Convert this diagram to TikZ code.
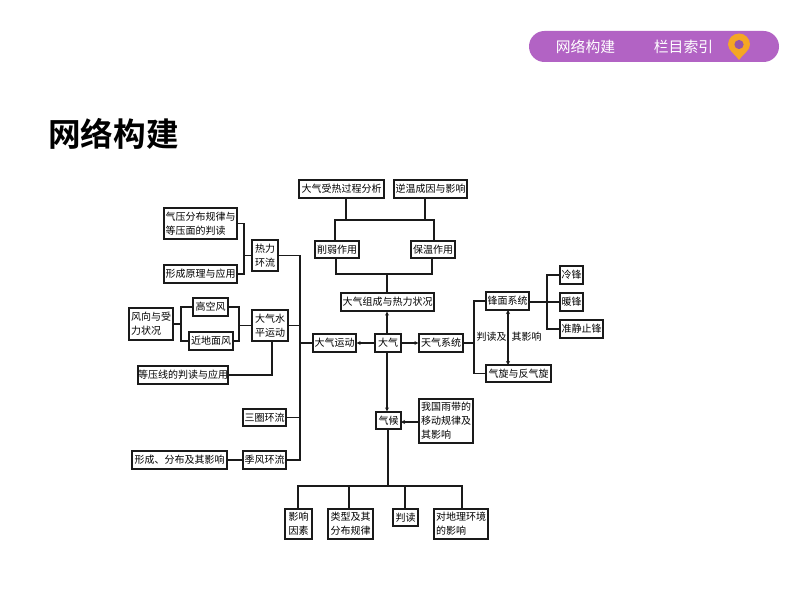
\documentclass[tikz,border=0pt]{standalone}
\usepackage{fontspec}
\setmainfont{Noto Sans CJK SC}
\newfontfamily\titlefont{Noto Sans CJK SC}[BoldFont={Noto Sans CJK SC Bold}]
\usetikzlibrary{arrows.meta}
\definecolor{pillc}{HTML}{B263C4}
\definecolor{pinc}{HTML}{F5A623}
\definecolor{linec}{HTML}{1A1A1A}
\tikzset{
  x=1pt,y=-1pt,
  bx/.style={draw=linec,line width=1.1pt,fill=white,inner sep=0pt,align=left,text=black,font=\fontsize{10}{14}\selectfont},
  conn/.style={draw=linec,line width=1.1pt},
  arr/.style={conn,-{Stealth[length=4pt,width=4pt]}},
  darr/.style={conn,{Stealth[length=4pt,width=4pt]}-{Stealth[length=4pt,width=4pt]}},
  lab/.style={inner sep=0pt,text=black,font=\fontsize{10}{14}\selectfont},
  pilltxt/.style={inner sep=0pt,text=white,font=\fontsize{14.8}{16}\selectfont},
}
\newcommand{\bxn}[6]{\node[bx,minimum width=#4pt-#2pt,minimum height=#5pt-#3pt] (#1) at ({(#2+#4)/2},{(#3+#5)/2}) {#6};}
\begin{document}
\begin{tikzpicture}
\useasboundingbox (0,0) rectangle (794,593);
\fill[white] (0,0) rectangle (794,593);
% header pill
\fill[pillc,rounded corners=15.5pt] (529,31) rectangle (779,62);
\node[pilltxt] (hdra) at (585.5,47) {网络构建};
\node[pilltxt] (hdrb) at (683.5,47) {栏目索引};
\fill[pinc] (739,60) .. controls (735,54) and (728,50.5) .. (728,44.5) arc[start angle=180,end angle=0,radius=11,x radius=11,y radius=-11] .. controls (750,50.5) and (743,54) .. (739,60) -- cycle;
\fill[pillc!85!black] (739,44.5) circle[radius=4.6];
% title
\node[inner sep=0pt,anchor=west,text=black,font=\titlefont\bfseries\fontsize{32.6}{36}\selectfont] (title) at (48,134) {网络构建};
% boxes
\bxn{a1}{299}{180}{384}{198}{大气受热过程分析}
\bxn{a2}{394}{180}{467}{198}{逆温成因与影响}
\bxn{b1}{315}{241}{359}{258}{削弱作用}
\bxn{b2}{411}{241}{455}{258}{保温作用}
\bxn{zc}{341}{293}{434}{311}{大气组成与热力状况}
\bxn{dq}{375}{334}{401}{352}{大气}
\bxn{yd}{313}{334}{356}{352}{大气运动}
\bxn{tq}{419}{334}{463}{352}{天气系统}
\bxn{fm}{486}{292}{529}{310}{锋面系统}
\bxn{qx}{486}{365}{551}{382}{气旋与反气旋}
\bxn{lf}{560}{266}{583}{284}{冷锋}
\bxn{nf}{560}{293}{583}{311}{暖锋}
\bxn{zj}{560}{320}{603}{338}{准静止锋}
\bxn{qy}{164}{208}{237}{239}{气压分布规律与\\等压面的判读}
\bxn{xc}{164}{265}{237}{283}{形成原理与应用}
\bxn{rl}{252}{240}{278}{271}{热力\\环流}
\bxn{gk}{193}{298}{228}{316}{高空风}
\bxn{jd}{189}{332}{233}{350}{近地面风}
\bxn{fx}{129}{308}{173}{340}{风向与受\\力状况}
\bxn{sp}{252}{310}{288}{341}{大气水\\平运动}
\bxn{dy}{138}{366}{228}{384}{等压线的判读与应用}
\bxn{sq}{243}{409}{286}{426}{三圈环流}
\bxn{jf}{243}{451}{286}{469}{季风环流}
\bxn{xf}{132}{451}{227}{469}{形成、分布及其影响}
\bxn{qh}{376}{412}{401}{429}{气候}
\bxn{yb}{419}{399}{473}{443}{我国雨带的\\移动规律及\\其影响}
\bxn{ys}{285}{509}{312}{539}{影响\\因素}
\bxn{lx}{328}{509}{373}{539}{类型及其\\分布规律}
\bxn{pd}{393}{509}{418}{526}{判读}
\bxn{dl}{434}{509}{488}{539}{对地理环境\\的影响}
\node[lab] (la) at (491.5,337) {判读及};
\node[lab] (lb) at (526.5,337) {其影响};
% junction coordinates
\coordinate (jtA) at (346,220);
\coordinate (jtB) at (425,220);
\coordinate (jtC) at (335,220);
\coordinate (jtD) at (434,220);
\coordinate (jbm) at (387,274);
\coordinate (jbA) at (336,274);
\coordinate (jbB) at (432,274);
\coordinate (jq) at (244,255.5);
\coordinate (jv) at (300,255.5);
\coordinate (jvb) at (300,460);
\coordinate (jg) at (239,325.5);
\coordinate (jw) at (181,324);
\coordinate (jdy) at (272,375);
\coordinate (jtq) at (474,343);
\coordinate (jf1) at (547,302);
\coordinate (jarA) at (508,310);
\coordinate (jarB) at (508,365);
\coordinate (jyb) at (419,422);
\coordinate (jqh) at (401,422);
\coordinate (jc) at (388,486);
\coordinate (jc1) at (298,486);
\coordinate (jc2) at (349,486);
\coordinate (jc3) at (405,486);
\coordinate (jc4) at (462,486);
% top tree
\draw[conn] (jtA |- a1.south) -- (jtA);
\draw[conn] (jtB |- a2.south) -- (jtB);
\draw[conn] (jtC |- b1.north) -- (jtC) -- (jtD) -- (jtD |- b2.north);
\draw[conn] (jbA |- b1.south) -- (jbA) -- (jbB) -- (jbB |- b2.south);
\draw[conn] (jbm) -- (jbm |- zc.north);
\draw[arr] (jbm |- dq.north) -- (jbm |- zc.south);
\draw[arr] (dq.west) -- (yd.east);
\draw[arr] (dq.east) -- (tq.west);
% weather
\draw[conn] (tq.east) -- (jtq);
\draw[conn] (fm.west) -| (jtq) |- (qx.west);
\draw[darr] (jarA) -- (jarB);
\draw[conn] (fm.east |- jf1) -- (nf.west |- jf1);
\draw[conn] (lf.west) -| (jf1) |- (zj.west);
% left
\draw[conn] (qy.east) -| (jq) |- (xc.east);
\draw[conn] (jq) -- (rl.west);
\draw[conn] (rl.east) -- (jv) -- (jvb) -- (jf.east |- jvb);
\draw[conn] (sp.east) -- (jv |- sp.east);
\draw[conn] (yd.west) -- (jv |- yd.west);
\draw[conn] (sq.east) -- (jv |- sq.east);
\draw[conn] (gk.east) -| (jg) |- (jd.east);
\draw[conn] (jg) -- (sp.west);
\draw[conn] (gk.west) -| (jw) |- (jd.west);
\draw[conn] (fx.east |- jw) -- (jw);
\draw[conn] (dy.east) -- (jdy) -- (jdy |- sp.south);
\draw[conn] (xf.east) -- (jf.west);
% climate
\draw[arr] (jbm |- dq.south) -- (jbm |- qh.north);
\draw[arr] (jyb) -- (jqh);
\draw[conn] (jc |- qh.south) -- (jc);
\draw[conn] (jc1 |- ys.north) -- (jc1) -- (jc4) -- (jc4 |- dl.north);
\draw[conn] (jc2) -- (jc2 |- lx.north);
\draw[conn] (jc3) -- (jc3 |- pd.north);
\end{tikzpicture}
\end{document}
